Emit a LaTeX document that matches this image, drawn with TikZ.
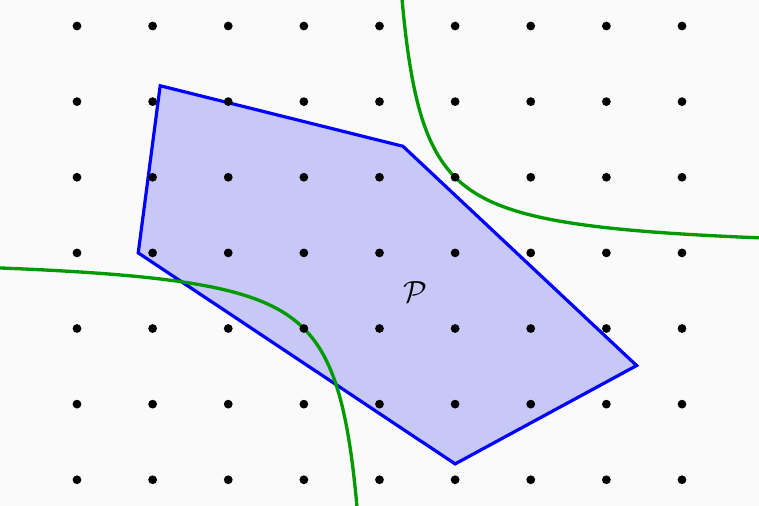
\documentclass[tikz,border=0pt]{standalone}
\usepackage{amsmath}
\definecolor{bgGray}{RGB}{250,250,250}
\definecolor{polyBlue}{RGB}{0,0,255}
\definecolor{polyFill}{RGB}{200,200,248}
\definecolor{hypGreen}{RGB}{0,153,0}
\begin{document}
\begin{tikzpicture}[
  gridDot/.style={fill=black, draw=none},
  polyStyle/.style={draw=polyBlue, fill=polyFill, line width=1.2pt, line join=miter},
  hyp/.style={draw=hypGreen, line width=1.25pt}
]
\fill[bgGray] (-1.018,-0.344) rectangle (9.018,6.344);
\useasboundingbox (-1.018,-0.344) rectangle (9.018,6.344);
\clip (-1.018,-0.344) rectangle (9.018,6.344);
% polygon
\coordinate (v1) at (1.1,5.21);
\coordinate (v2) at (4.31,4.41);
\coordinate (v3) at (7.4,1.51);
\coordinate (v4) at (5.0,0.21);
\coordinate (v5) at (0.81,3.0);
\draw[polyStyle] (v1) -- (v2) -- (v3) -- (v4) -- (v5) -- cycle;
\node[scale=1.15] (P) at (4.48,2.48) {$\mathcal{P}$};
% hyperbola (x-4)(y-3)=1
\draw[hyp] plot[domain=-1.25:1.65, samples=200, smooth] ({4+exp(\x)},{3+exp(-\x)});
\draw[hyp] plot[domain=-1.25:1.65, samples=200, smooth] ({4-exp(\x)},{3-exp(-\x)});
% dots
\foreach \i in {0,...,8}
  \foreach \j in {0,...,6}
    \fill[gridDot] (\i,\j) circle (0.058);
\end{tikzpicture}
\end{document}
